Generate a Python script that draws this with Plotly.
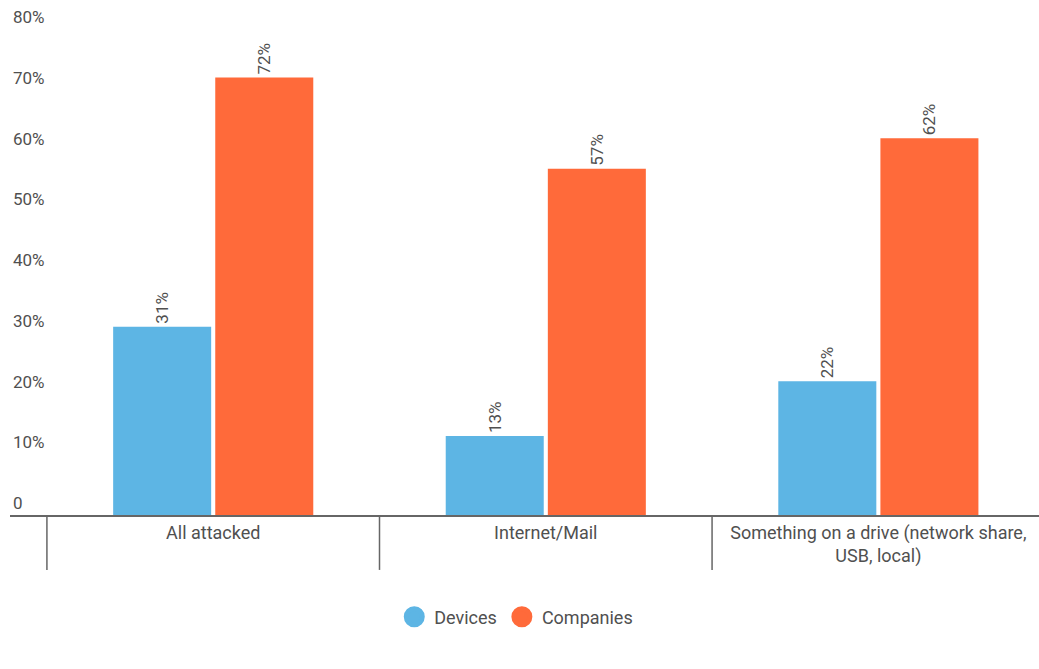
import plotly.graph_objects as go

categories = ["All attacked", "Internet/Mail", "Something on a drive (network share,<br>USB, local)"]
devices = [31, 13, 22]
companies = [72, 57, 62]
y_ticks = [0, 10, 20, 30, 40, 50, 60, 70, 80]
y_tick_labels = ["0", "10%", "20%", "30%", "40%", "50%", "60%", "70%", "80%"]

BLUE = "#5db5e4"
ORANGE = "#ff6a3a"
TEXT = "#505050"
FONT = "Roboto"

fig = go.Figure()
for name, vals, color in [("Devices", devices, BLUE), ("Companies", companies, ORANGE)]:
    fig.add_trace(go.Bar(
        x=categories, y=vals, name=name,
        marker=dict(color=color, line=dict(width=0)),
        text=[f"{v}%" for v in vals],
        textposition="outside", textangle=-90,
        textfont=dict(family=FONT, size=17, color=TEXT),
        cliponaxis=False, showlegend=False,
    ))
    # circular legend markers
    fig.add_trace(go.Scatter(
        x=[None], y=[None], mode="markers", name=name,
        marker=dict(color=color, size=16, symbol="circle",
                    line=dict(color=color, width=5)),
    ))

# category separators below the axis line
for xpos in [-0.5, 0.5, 1.5]:
    fig.add_shape(type="line", xref="x", yref="paper",
                  x0=xpos, x1=xpos, y0=0, y1=-0.113,
                  line=dict(color="#666666", width=1.5))

fig.update_layout(
    width=1039, height=669,
    margin=dict(l=10, r=0, t=29, b=154),
    paper_bgcolor="white", plot_bgcolor="white",
    barmode="group", bargap=0.386, bargroupgap=0.04,
    font=dict(family=FONT, size=17, color=TEXT),
    legend=dict(orientation="h", x=0.492, xanchor="center", y=-0.172, yanchor="top",
                font=dict(family=FONT, size=18, color=TEXT)),
    xaxis=dict(range=[-0.611, 2.483], showline=True, linecolor="#666666", linewidth=2,
               ticks="", showgrid=False,
               tickfont=dict(family=FONT, size=18, color=TEXT)),
    yaxis=dict(range=[0, 80], tickvals=y_ticks, ticktext=y_tick_labels,
               showgrid=False, zeroline=False, showline=False, ticks="",
               ticklabelposition="inside top", ticklabeloverflow="allow",
               tickfont=dict(family=FONT, size=17, color=TEXT)),
)

fig.write_html("out.html")
